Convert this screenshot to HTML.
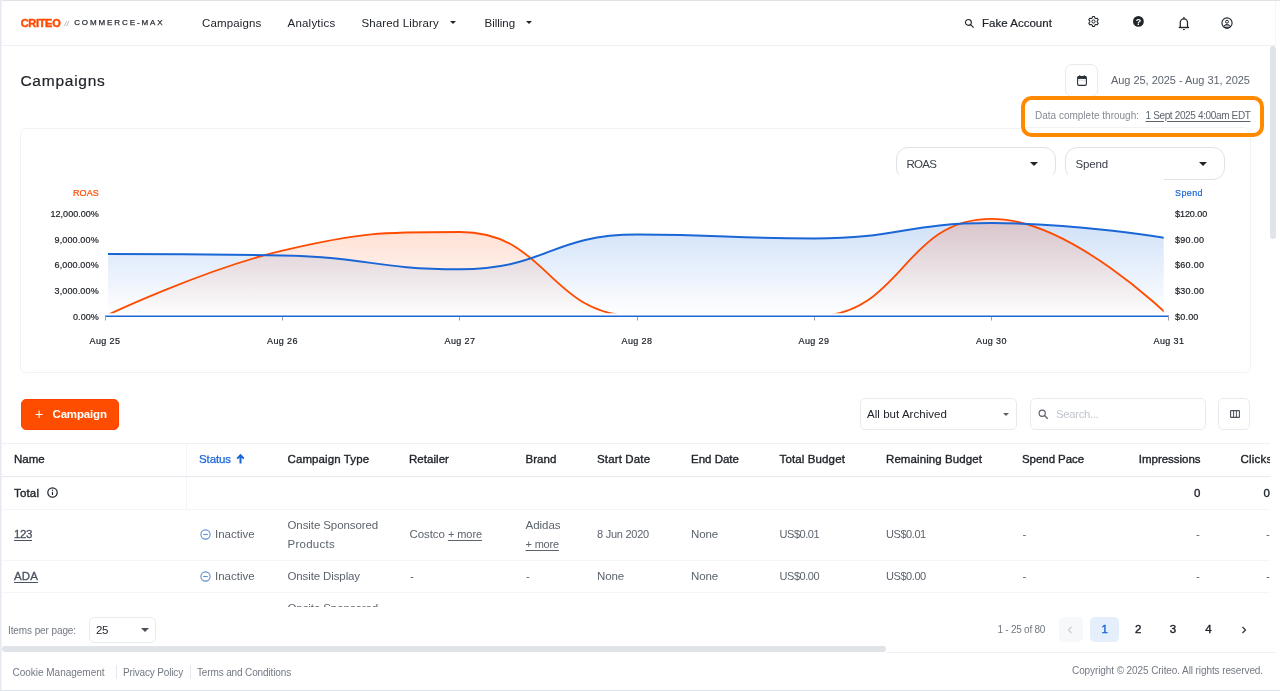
<!DOCTYPE html>
<html lang="en">
<head>
<meta charset="utf-8">
<title>Campaigns - Commerce Max</title>
<style>
*{box-sizing:border-box;margin:0;padding:0}
html,body{width:1280px;height:691px;overflow:hidden;background:#fff}
body{font-family:"Liberation Sans",sans-serif;color:#20252b;position:relative}
#root{position:absolute;left:0;top:0;width:1280px;height:691px;overflow:hidden;will-change:transform}
.abs{position:absolute}
.t{position:absolute;white-space:nowrap;line-height:1}
#frame-l{left:0;top:0;width:2px;height:691px;background:linear-gradient(90deg,#e6e9ef 0,#e6e9ef 1px,#f1f3f6 1px,#f1f3f6 2px)}
#frame-t{left:0;top:0;width:1280px;height:1px;background:#e1e2e5}
#frame-b{left:0;top:690px;width:1280px;height:1px;background:#dde3ec}
#hdr-line{left:2px;top:45px;width:1274px;height:1px;background:#eff0f3}
.nav{font-size:11.5px;color:#20252b;top:17.7px;letter-spacing:.13px}
.caret{position:absolute;width:0;height:0;border-left:3px solid transparent;border-right:3px solid transparent;border-top:3.5px solid #20252b}
.th{font-size:11.5px;color:#20252b;top:454.3px;letter-spacing:.2px;-webkit-text-stroke:.35px #20252b}
.td{font-size:11.5px;color:#5d646e;letter-spacing:.25px}
.u{text-decoration:underline;text-underline-offset:2px;text-decoration-thickness:.8px}
.hl{position:absolute;height:1px;background:#f4f5f7;left:2px;width:1268px}
.sm{font-size:10px;color:#737982;letter-spacing:.1px}
.ax{font-size:9px;color:#20252b;-webkit-text-stroke:.2px #20252b}
.box{position:absolute;border:1px solid #e8eaee;border-radius:5px;background:#fff}
</style>
</head>
<body>
<div id="root">
<div class="abs" id="frame-t"></div>
<div class="abs" id="frame-l"></div>
<div class="abs" id="frame-b"></div>

<!-- HEADER -->
<div id="header">
  <div class="t" id="logo" style="left:20.7px;top:17.5px;font-size:11px;font-weight:700;color:#ff4b00;-webkit-text-stroke:.45px #ff4b00;letter-spacing:-0.310px">CRITEO</div>
  <div class="t" id="logo-sl" style="left:64.5px;top:19.5px;font-size:7px;color:#8a9098;font-style:italic;letter-spacing:0.3px">//</div>
  <div class="t" id="logo-cm" style="left:74.2px;top:19px;font-size:8px;color:#2b3036;letter-spacing:1.9px;-webkit-text-stroke:.25px #2b3036">COMMERCE-MAX</div>
  <div class="t nav" id="n1" style="left:202px;letter-spacing:0.136px">Campaigns</div>
  <div class="t nav" id="n2" style="left:287.5px;letter-spacing:.22px;letter-spacing:0.220px">Analytics</div>
  <div class="t nav" id="n3" style="left:361.5px;letter-spacing:0.133px">Shared Library</div>
  <div class="caret" style="left:450px;top:21px"></div>
  <div class="t nav" id="n4" style="left:484.5px;letter-spacing:-0.026px">Billing</div>
  <div class="caret" style="left:526px;top:21px"></div>
  <svg class="abs" style="left:963.5px;top:17.5px" width="11" height="11" viewBox="0 0 12 12"><circle cx="4.8" cy="4.8" r="3.2" fill="none" stroke="#20252b" stroke-width="1.2"/><path d="M7.2 7.2L10.5 10.5" stroke="#20252b" stroke-width="1.3"/></svg>
  <div class="t nav" id="acct" style="left:982px;-webkit-text-stroke:.2px #20252b;letter-spacing:0.018px">Fake Account</div>
  <!-- gear -->
  <svg class="abs" style="left:1087.4px;top:15px" width="13" height="13" viewBox="-6.5 -6.5 13 13"><path d="M-1.39,-3.43L-0.95,-4.91L0.95,-4.91L1.39,-3.43L2.28,-2.92L3.77,-3.28L4.73,-1.63L3.66,-0.51L3.66,0.51L4.73,1.63L3.77,3.28L2.28,2.92L1.39,3.43L0.95,4.91L-0.95,4.91L-1.39,3.43L-2.28,2.92L-3.77,3.28L-4.73,1.63L-3.66,0.51L-3.66,-0.51L-4.73,-1.63L-3.77,-3.28L-2.28,-2.92Z" fill="none" stroke="#20252b" stroke-width="1.050" stroke-linejoin="round"/><circle cx="0" cy="0" r="1.6" fill="none" stroke="#20252b" stroke-width="1"/></svg>
  <!-- help -->
  <svg class="abs" style="left:1133.2px;top:16.3px" width="10.8" height="10.8" viewBox="0 0 24 24"><circle cx="12" cy="12" r="12" fill="#20252b"/><text x="12" y="19" font-family="Liberation Sans, sans-serif" font-size="20" font-weight="700" text-anchor="middle" fill="#fff">?</text></svg>
  <!-- bell -->
  <svg class="abs" style="left:1178px;top:16px" width="12" height="15" viewBox="0 0 12 15"><circle cx="5.9" cy="1.9" r=".850" fill="#20252b"/><path d="M2.3 11.3V6.6A3.6 3.7 0 0 1 9.5 6.6V11.3" fill="none" stroke="#20252b" stroke-width="1.250"/><path d="M.700 11.5H11.1" stroke="#20252b" stroke-width="1.4"/><path d="M4.8 13.1h2.2a1.1 1.1 0 0 1 -2.2 0z" fill="#20252b"/></svg>
  <!-- user -->
  <svg class="abs" style="left:1221.4px;top:16.9px" width="12" height="12" viewBox="0 0 12 12"><path d="M2.5 9.7C3.3 8 4.7 7.6 6 7.6S8.7 8 9.5 9.7C8.5 10.7 7.3 11.1 6 11.1S3.5 10.7 2.5 9.7z" fill="#b4b8be" stroke="#20252b" stroke-width="1"/><circle cx="6" cy="6" r="5.1" fill="none" stroke="#20252b" stroke-width="1.1"/><circle cx="6" cy="4.7" r="1.450" fill="none" stroke="#20252b" stroke-width="1"/></svg>
</div>
<div class="abs" id="hdr-line"></div>

<!-- right scrollbar -->
<div class="abs" style="left:1270px;top:45.5px;width:6px;height:193px;background:#e0e3e7;border-radius:3px"></div>
<div class="abs" style="left:1275px;top:1px;width:1px;height:44px;background:#f6f6f8"></div>

<!-- TITLE ROW -->
<div class="t" id="title" style="left:20.4px;top:72.6px;font-size:15.5px;color:#20252b;letter-spacing:.4px;-webkit-text-stroke:.2px #20252b;letter-spacing:0.755px">Campaigns</div>
<div class="box" style="left:1065px;top:64px;width:33px;height:33px;border-radius:7px"></div>
<svg class="abs" style="left:1076.7px;top:74.7px" width="10" height="11" viewBox="0 0 10 11"><rect x=".600" y="1.6" width="8.8" height="8.8" rx="1.3" fill="none" stroke="#2a2f36" stroke-width="1.1"/><rect x=".600" y="1.6" width="8.8" height="2.3" fill="#2a2f36"/><path d="M2.7 .300v2M7.3 .300v2" stroke="#2a2f36" stroke-width="1.2"/><path d="M2.3 4.7h1v.9h-1zM4.5 4.7h1v.9h-1zM6.7 4.7h1v.9h-1z" fill="#8a9098"/></svg>
<div class="t" id="daterange" style="left:1111px;top:74.7px;font-size:11px;color:#5d646e;letter-spacing:.18px;letter-spacing:-0.043px">Aug 25, 2025 - Aug 31, 2025</div>

<!-- CHART CARD -->
<div class="abs" id="card" style="left:20px;top:128px;width:1231px;height:245px;border:1px solid #f0f2f5;border-radius:6px;background:#fff"></div>

<!-- selects in chart -->
<div class="abs" style="left:896px;top:147px;width:160px;height:33px;border:1px solid #dfe2e6;border-radius:12px;background:#fff"></div>
<div class="abs" style="left:1065px;top:147px;width:160px;height:33px;border:1px solid #dfe2e6;border-radius:12px;background:#fff"></div>
<div class="t" id="sel1" style="left:906.5px;top:158.7px;font-size:11.5px;color:#3b4149;letter-spacing:.2px;letter-spacing:-0.739px">ROAS</div>
<div class="t" id="sel2" style="left:1075.5px;top:158.7px;font-size:11.5px;color:#3b4149;letter-spacing:.2px;letter-spacing:-0.153px">Spend</div>
<div class="caret" style="left:1030px;top:161.5px;border-left-width:4px;border-right-width:4px;border-top-width:4.5px"></div>
<div class="caret" style="left:1199px;top:161.5px;border-left-width:4px;border-right-width:4px;border-top-width:4.5px"></div>
<!-- white overlay of chart svg clipping selects -->
<div class="abs" style="left:60px;top:175px;width:1104px;height:30px;background:#fff"></div>

<!-- CHART -->
<svg class="abs" id="chart" style="left:0;top:0" width="1280" height="380" viewBox="0 0 1280 380">
  <defs>
    <linearGradient id="gb" x1="0" y1="0" x2="0" y2="1" gradientUnits="objectBoundingBox"><stop offset="0" stop-color="#1a6ade" stop-opacity=".2"/><stop offset="1" stop-color="#1a6ade" stop-opacity="0"/></linearGradient>
    <linearGradient id="go" x1="0" y1="0" x2="0" y2="1" gradientUnits="objectBoundingBox"><stop offset="0" stop-color="#ff4b00" stop-opacity=".19"/><stop offset="1" stop-color="#ff4b00" stop-opacity="0"/></linearGradient>
    <clipPath id="cp"><rect x="108" y="190" width="1055.7" height="123.3"/></clipPath>
  </defs>
  <g clip-path="url(#cp)">
    <path d="M105.00,254.00C105.00,254.00,195.91,254.00,282.50,255.50C369.09,257.00,373.41,269.25,460.00,269.25C546.34,269.25,550.66,234.50,637.00,234.50C723.34,234.50,727.66,238.50,814.00,238.50C900.59,238.50,904.91,223.00,991.50,223.00C1078.09,223.00,1169.00,238.50,1169.00,238.50 L1169,316.250L105,316.250Z" fill="url(#gb)"/>
    <path d="M105.00,316.25C105.00,316.25,203.61,269.20,282.50,250.60C361.39,232.00,381.11,232.00,460.00,232.00C548.50,232.00,548.50,316.25,637.00,316.25C725.50,316.25,725.50,316.25,814.00,316.25C902.75,316.25,902.75,218.80,991.50,218.80C1070.39,218.80,1169.00,316.25,1169.00,316.25 L1169,316.250L105,316.250Z" fill="url(#go)"/>
    <path d="M105.00,316.25C105.00,316.25,203.61,269.20,282.50,250.60C361.39,232.00,381.11,232.00,460.00,232.00C548.50,232.00,548.50,316.25,637.00,316.25C725.50,316.25,725.50,316.25,814.00,316.25C902.75,316.25,902.75,218.80,991.50,218.80C1070.39,218.80,1169.00,316.25,1169.00,316.25" fill="none" stroke="#ff4b00" stroke-width="1.8"/>
    <path d="M105.00,254.00C105.00,254.00,195.91,254.00,282.50,255.50C369.09,257.00,373.41,269.25,460.00,269.25C546.34,269.25,550.66,234.50,637.00,234.50C723.34,234.50,727.66,238.50,814.00,238.50C900.59,238.50,904.91,223.00,991.50,223.00C1078.09,223.00,1169.00,238.50,1169.00,238.50" fill="none" stroke="#1a66d6" stroke-width="2"/>
  </g>
  <path d="M105,316.250H1169" stroke="#1a66d6" stroke-width="1.5"/>
  <g stroke="#9aa0a8" stroke-width="1">
    <path d="M105.5,316v4.5M282.5,317v3.5M459.5,317v3.5M637.5,317v3.5M814.5,317v3.5M991.5,317v3.5M1168.5,316v4.5"/>
  </g>
</svg>
<div class="t ax" id="roas-l" style="left:73px;top:189px;color:#ff4b00;-webkit-text-stroke:.2px #ff4b00;letter-spacing:.2px;letter-spacing:0.072px">ROAS</div>
<div class="t ax" id="spend-l" style="left:1175px;top:189px;color:#1a66d6;-webkit-text-stroke:.2px #1a66d6;letter-spacing:.1px;letter-spacing:0.394px">Spend</div>
<div class="t ax" id="yl0" style="right:1181.2px;top:209.9px;letter-spacing:0.025px">12,000.00%</div>
<div class="t ax" id="yl1" style="right:1181.2px;top:235.7px;letter-spacing:0.139px">9,000.00%</div>
<div class="t ax" id="yl2" style="right:1181.2px;top:261.3px;letter-spacing:0.139px">6,000.00%</div>
<div class="t ax" id="yl3" style="right:1181.2px;top:287.1px;letter-spacing:0.139px">3,000.00%</div>
<div class="t ax" id="yl4" style="right:1181.2px;top:312.5px;letter-spacing:0.054px">0.00%</div>
<div class="t ax" id="yr0" style="left:1175px;top:209.9px;letter-spacing:-0.048px">$120.00</div>
<div class="t ax" id="yr1" style="left:1175px;top:235.7px;letter-spacing:0.294px">$90.00</div>
<div class="t ax" id="yr2" style="left:1175px;top:261.3px;letter-spacing:0.294px">$60.00</div>
<div class="t ax" id="yr3" style="left:1175px;top:287.1px;letter-spacing:0.294px">$30.00</div>
<div class="t ax" id="yr4" style="left:1175px;top:312.5px;letter-spacing:0.213px">$0.00</div>

<div class="t ax" id="xa0" style="left:75.0px;top:336.5px;width:60px;text-align:center;letter-spacing:0.377px">Aug 25</div>
<div class="t ax" id="xa1" style="left:252.5px;top:336.5px;width:60px;text-align:center;letter-spacing:0.377px">Aug 26</div>
<div class="t ax" id="xa2" style="left:430.0px;top:336.5px;width:60px;text-align:center;letter-spacing:0.377px">Aug 27</div>
<div class="t ax" id="xa3" style="left:607.0px;top:336.5px;width:60px;text-align:center;letter-spacing:0.377px">Aug 28</div>
<div class="t ax" id="xa4" style="left:784.0px;top:336.5px;width:60px;text-align:center;letter-spacing:0.377px">Aug 29</div>
<div class="t ax" id="xa5" style="left:961.5px;top:336.5px;width:60px;text-align:center;letter-spacing:0.377px">Aug 30</div>
<div class="t ax" id="xa6" style="left:1139.0px;top:336.5px;width:60px;text-align:center;letter-spacing:0.377px">Aug 31</div>


<!-- orange highlight -->
<div class="abs" id="hl" style="left:1021.2px;top:95.5px;width:242.6px;height:41.8px;border:4.6px solid #ff8a00;border-radius:10.5px;background:#fff;overflow:hidden">
  <div class="abs" style="left:-10px;top:27.9px;width:234.2px;height:20px;border:1px solid #f0f2f5;border-radius:6px"></div>
</div>
<div class="t sm" id="dct" style="left:1035px;top:110.5px;color:#858b93;letter-spacing:.22px;letter-spacing:0.002px">Data complete through:</div>
<div class="t sm u" id="dcv" style="left:1145.5px;top:110.5px;color:#5d646e;letter-spacing:.12px;text-underline-offset:1.5px;letter-spacing:-0.357px">1 Sept 2025 4:00am EDT</div>

<!-- TOOLBAR -->
<div class="abs" id="btn" style="left:20.7px;top:398.6px;width:98.5px;height:31.3px;background:#ff4d00;border:1px solid #ff4200;border-radius:5px"></div>
<div class="t" style="left:35px;top:407.3px;font-size:14px;color:#fff;font-weight:400">+</div>
<div class="t" id="btn-t" style="left:52.5px;top:408.8px;font-size:11.5px;color:#fff;font-weight:700;letter-spacing:-.05px;letter-spacing:-0.169px">Campaign</div>

<div class="box" style="left:860px;top:398px;width:157px;height:32px"></div>
<div class="t" id="aba" style="left:867px;top:408.5px;font-size:11.5px;color:#20252b;letter-spacing:.15px;letter-spacing:0.045px">All but Archived</div>
<div class="caret" style="left:1002.5px;top:412.7px;border-left-width:3.5px;border-right-width:3.5px;border-top-width:3.8px;border-top-color:#5a6068"></div>
<div class="box" style="left:1030px;top:398px;width:176px;height:32px"></div>
<svg class="abs" style="left:1038px;top:409px" width="11" height="11" viewBox="0 0 11 11"><circle cx="4.2" cy="4.2" r="3.1" fill="none" stroke="#5a6068" stroke-width="1.150"/><path d="M6.5 6.5L9.7 9.7" stroke="#5a6068" stroke-width="1.250"/></svg>
<div class="t" id="srch" style="left:1056px;top:408.5px;font-size:11.5px;color:#c2c6cc;letter-spacing:.2px;letter-spacing:-0.403px">Search...</div>
<div class="box" style="left:1218.2px;top:398px;width:32.3px;height:32px"></div>
<svg class="abs" style="left:1229.5px;top:410px" width="10" height="8" viewBox="0 0 10 8"><rect x=".600" y=".600" width="8.8" height="6.8" rx=".400" fill="none" stroke="#4a5058" stroke-width="1.1"/><path d="M3.6 .600v6.8M6.4 .600v6.8" stroke="#4a5058" stroke-width="1"/></svg>

<!-- TABLE -->
<div class="hl" style="top:443px;background:#f0f1f4"></div>
<div class="hl" style="top:476px;background:#e8eaef"></div>
<div class="hl" style="top:477px;background:#fafbfc"></div>
<div class="hl" style="top:509px"></div>
<div class="hl" style="top:560px"></div>
<div class="hl" style="top:592px"></div>
<div class="abs" style="left:186px;top:444px;width:1px;height:65px;background:#f3f4f7"></div>

<div class="t th" id="h-name" style="left:14px;letter-spacing:0.002px">Name</div>
<div class="t th" id="h-status" style="left:199px;color:#1a66d6;-webkit-text-stroke:.25px #1a66d6;letter-spacing:-0.118px">Status</div>
<svg class="abs" style="left:236.3px;top:454.2px" width="9" height="10" viewBox="0 0 9 10"><path d="M4.5 9.5V1.5M1.2 4.6L4.5 1.2L7.8 4.6" fill="none" stroke="#1a66d6" stroke-width="2"/></svg>
<div class="t th" id="h-ct" style="left:287.5px;letter-spacing:0.105px">Campaign Type</div>
<div class="t th" id="h-ret" style="left:409px;letter-spacing:0.046px">Retailer</div>
<div class="t th" id="h-brand" style="left:525.5px;letter-spacing:0.022px">Brand</div>
<div class="t th" id="h-sd" style="left:597px;letter-spacing:0.142px">Start Date</div>
<div class="t th" id="h-ed" style="left:691px;letter-spacing:-0.008px">End Date</div>
<div class="t th" id="h-tb" style="left:779.5px;letter-spacing:0.130px">Total Budget</div>
<div class="t th" id="h-rb" style="left:886px;letter-spacing:0.086px">Remaining Budget</div>
<div class="t th" id="h-sp" style="left:1022px;letter-spacing:-0.057px">Spend Pace</div>
<div class="t th" id="h-imp" style="right:79.5px;letter-spacing:-0.027px">Impressions</div>
<div class="abs" style="left:1230px;top:444px;width:40px;height:32px;overflow:hidden"><div class="t th" id="h-cl" style="left:10.5px;top:10.3px">Clicks</div></div>

<div class="t th" id="r0-name" style="left:14px;top:487.5px;letter-spacing:0.160px">Total</div>
<svg class="abs" style="left:47px;top:487px" width="11" height="11" viewBox="0 0 11 11"><circle cx="5.5" cy="5.5" r="4.7" fill="none" stroke="#20252b" stroke-width="1.2"/><path d="M5.5 4.8v3.2" stroke="#20252b" stroke-width="1.2"/><circle cx="5.5" cy="3.2" r=".700" fill="#20252b"/></svg>
<div class="t th" id="r0-imp" style="right:79.5px;top:487.5px">0</div>
<div class="t th" id="r0-cl" style="right:10px;top:487.5px">0</div>

<!-- row 1 -->
<div class="t td u" id="r1-name" style="left:14px;top:528.5px;color:#4a5260;-webkit-text-stroke:.3px #4a5260;letter-spacing:.4px;letter-spacing:-0.397px">123</div>
<svg class="abs stat" style="left:199.5px;top:529px" width="11" height="11" viewBox="0 0 11 11"><circle cx="5.5" cy="5.5" r="4.6" fill="none" stroke="#5f8fd0" stroke-width="1.1"/><path d="M3.2 5.5h4.6" stroke="#5f8fd0" stroke-width="1.1"/></svg>
<div class="t td" id="r1-st" style="left:215px;top:528.5px;letter-spacing:0.007px">Inactive</div>
<div class="t td" id="r1-ct1" style="left:287.5px;top:519.5px;letter-spacing:-0.092px">Onsite Sponsored</div>
<div class="t td" id="r1-ct2" style="left:287.5px;top:538.5px">Products</div>
<div class="t td" id="r1-ret" style="left:409.5px;top:528.5px;letter-spacing:-0.080px">Costco <span class="u" style="font-size:11px">+ more</span></div>
<div class="t td" id="r1-b1" style="left:525.5px;top:519.5px;letter-spacing:-0.013px">Adidas</div>
<div class="t td u" id="r1-b2" style="left:525.5px;top:538.5px;font-size:11px;letter-spacing:-0.174px">+ more</div>
<div class="t td" id="r1-sd" style="left:597px;top:528.9px;font-size:11px;letter-spacing:-0.255px">8 Jun 2020</div>
<div class="t td" id="r1-ed" style="left:691px;top:528.5px;letter-spacing:-0.075px">None</div>
<div class="t td" id="r1-tb" style="left:779.5px;top:528.9px;font-size:11px;letter-spacing:-0.444px">US$0.01</div>
<div class="t td" id="r1-rb" style="left:886px;top:528.9px;font-size:11px;letter-spacing:-0.432px">US$0.01</div>
<div class="t td" style="left:1022.5px;top:528.5px">-</div>
<div class="t td" style="right:80px;top:528.5px">-</div>
<div class="t td" style="right:10px;top:528.5px">-</div>

<!-- row 2 -->
<div class="t td u" id="r2-name" style="left:14px;top:570.5px;color:#4a5260;-webkit-text-stroke:.3px #4a5260;letter-spacing:.4px;letter-spacing:0.114px">ADA</div>
<svg class="abs stat" style="left:199.5px;top:571px" width="11" height="11" viewBox="0 0 11 11"><circle cx="5.5" cy="5.5" r="4.6" fill="none" stroke="#5f8fd0" stroke-width="1.1"/><path d="M3.2 5.5h4.6" stroke="#5f8fd0" stroke-width="1.1"/></svg>
<div class="t td" id="r2-st" style="left:215px;top:570.5px;letter-spacing:0.007px">Inactive</div>
<div class="t td" id="r2-ct" style="left:287.5px;top:570.5px;letter-spacing:-0.118px">Onsite Display</div>
<div class="t td" style="left:410px;top:570.5px">-</div>
<div class="t td" style="left:526px;top:570.5px">-</div>
<div class="t td" id="r2-sd" style="left:597px;top:570.5px;letter-spacing:-0.075px">None</div>
<div class="t td" id="r2-ed" style="left:691px;top:570.5px;letter-spacing:-0.075px">None</div>
<div class="t td" id="r2-tb" style="left:779.5px;top:570.9px;font-size:11px;letter-spacing:-0.444px">US$0.00</div>
<div class="t td" id="r2-rb" style="left:886px;top:570.9px;font-size:11px;letter-spacing:-0.432px">US$0.00</div>
<div class="t td" style="left:1022.5px;top:570.5px">-</div>
<div class="t td" style="right:80px;top:570.5px">-</div>
<div class="t td" style="right:10px;top:570.5px">-</div>

<!-- row 3 (clipped) -->
<div class="abs" style="left:280px;top:593px;width:120px;height:14px;overflow:hidden"><div class="t td" id="r3-ct1" style="left:7.5px;top:9.5px;letter-spacing:-0.092px">Onsite Sponsored</div></div>

<!-- PAGINATION BAR -->
<div class="t sm" id="ipp" style="left:8px;top:626px;letter-spacing:.05px;letter-spacing:-0.099px">Items per page:</div>
<div class="box" style="left:89px;top:617px;width:67px;height:26px"></div>
<div class="t" id="ipv" style="left:96px;top:624.5px;font-size:11.5px;color:#20252b;letter-spacing:-0.398px">25</div>
<div class="caret" style="left:141px;top:628px;border-left-width:4px;border-right-width:4px;border-top-width:4.5px;border-top-color:#4a5058"></div>

<div class="t sm" id="pgi" style="left:997.5px;top:625px;letter-spacing:.0px;letter-spacing:-0.250px">1 - 25 of 80</div>
<div class="abs" style="left:1058.5px;top:617px;width:24.5px;height:25px;background:#f7f8f9;border-radius:5px"></div>
<svg class="abs" style="left:1067px;top:625.5px" width="6" height="8" viewBox="0 0 6 8"><path d="M4.5 1L1.5 4L4.5 7" fill="none" stroke="#c9cdd3" stroke-width="1.1"/></svg>
<div class="abs" style="left:1090.2px;top:617px;width:29px;height:25px;background:#e5eefb;border-radius:5px"></div>
<div class="t" style="left:1101.5px;top:624.3px;font-size:11.5px;color:#1a66d6;-webkit-text-stroke:.4px #1a66d6">1</div>
<div class="t pg" style="left:1135px;top:624.3px;font-size:11.5px;color:#20252b;-webkit-text-stroke:.4px #20252b">2</div>
<div class="t pg" style="left:1169.7px;top:624.3px;font-size:11.5px;color:#20252b;-webkit-text-stroke:.4px #20252b">3</div>
<div class="t pg" style="left:1205.3px;top:624.3px;font-size:11.5px;color:#20252b;-webkit-text-stroke:.4px #20252b">4</div>
<svg class="abs" style="left:1241px;top:625.5px" width="6" height="8" viewBox="0 0 6 8"><path d="M1.5 1L4.5 4L1.5 7" fill="none" stroke="#2a2f36" stroke-width="1.150"/></svg>

<!-- h scrollbar -->
<div class="abs" style="left:1.5px;top:646.3px;width:884px;height:6px;background:#e0e3e7;border-radius:3px"></div>
<div class="abs" style="left:886px;top:652px;width:390px;height:1px;background:#f0f1f4"></div>

<!-- FOOTER -->
<div class="t sm" id="f1" style="left:12.5px;top:667.5px;letter-spacing:.12px;letter-spacing:-0.017px">Cookie Management</div>
<div class="abs" style="left:116px;top:665px;width:1px;height:14px;background:#e4e7ec"></div>
<div class="t sm" id="f2" style="left:123px;top:667.5px;letter-spacing:.12px;letter-spacing:-0.160px">Privacy Policy</div>
<div class="abs" style="left:190px;top:665px;width:1px;height:14px;background:#e4e7ec"></div>
<div class="t sm" id="f3" style="left:197px;top:667.5px;letter-spacing:.12px;letter-spacing:-0.136px">Terms and Conditions</div>
<div class="t sm" id="f4" style="left:1072px;top:666px;letter-spacing:.1px;letter-spacing:-0.094px">Copyright © 2025 Criteo. All rights reserved.</div>

</div>
</body>
</html>
